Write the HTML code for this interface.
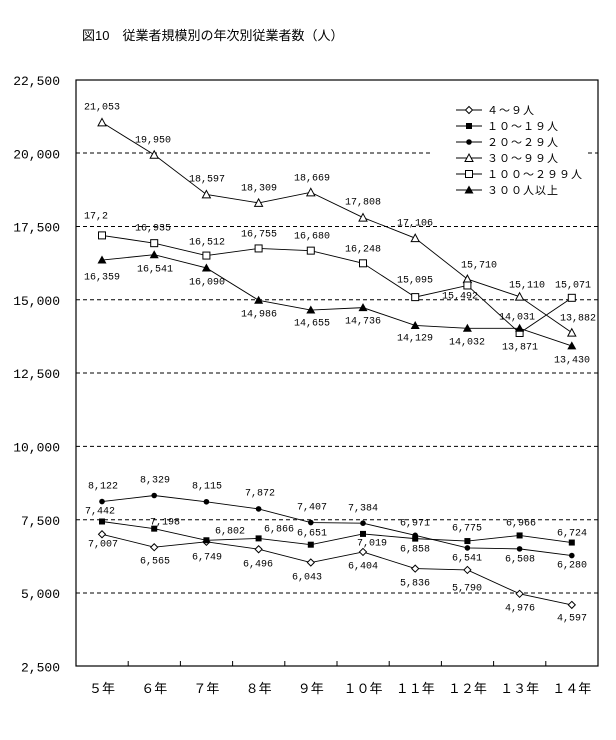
<!DOCTYPE html>
<html><head><meta charset="utf-8"><style>
body{margin:0;background:#fff;}
svg text{font-family:"Liberation Mono","Noto Sans CJK JP",monospace;}
</style></head><body>
<svg width="616" height="735" viewBox="0 0 616 735" xmlns="http://www.w3.org/2000/svg">
<text x="82" y="40" font-size="13" style="font-family:'Liberation Sans','Noto Sans CJK JP',sans-serif">図10　従業者規模別の年次別従業者数（人）</text>
<g stroke="#000" stroke-dasharray="4,3" stroke-width="1">
<line x1="76" x2="432" y1="153" y2="153"/><line x1="588" x2="598" y1="153" y2="153"/>
<line x1="76" x2="598" y1="226.5" y2="226.5"/>
<line x1="76" x2="598" y1="299.8" y2="299.8"/>
<line x1="76" x2="598" y1="373" y2="373"/>
<line x1="76" x2="598" y1="446.4" y2="446.4"/>
<line x1="76" x2="598" y1="519.7" y2="519.7"/>
<line x1="76" x2="598" y1="593" y2="593"/>
</g>
<rect x="76" y="80" width="522" height="586" fill="none" stroke="#000" stroke-width="1.2"/>
<g id="ticks" stroke="#000"></g>
<g id="ylab" font-size="13" text-anchor="end" style="font-family:'Liberation Sans',sans-serif"></g>
<g id="xlab" font-size="13" text-anchor="middle" style="font-family:'Liberation Sans','Noto Sans CJK JP',sans-serif"></g>
<g id="series"></g>
<g id="labels" font-size="10" text-anchor="middle" dominant-baseline="central"></g>
<g id="legend" font-size="11" style="font-family:'Liberation Sans','Noto Sans CJK JP',sans-serif"></g>
</svg>
<script>
var NS="http://www.w3.org/2000/svg";
function el(p,t,a,txt){var e=document.createElementNS(NS,t);for(var k in a)e.setAttribute(k,a[k]);if(txt!=null)e.textContent=txt;document.getElementById(p).appendChild(e);return e;}
function X(i){return 102+i*52.2;}
function Y(v){return 80+(22500-v)*0.02932;}
var yl=["22,500","20,000","17,500","15,000","12,500","10,000","7,500","5,000","2,500"];
for(var i=0;i<9;i++)el("ylab","text",{x:60,y:80+i*73.3+5},yl[i]);
var xl=["５年","６年","７年","８年","９年","１０年","１１年","１２年","１３年","１４年"];
for(var i=0;i<10;i++){el("xlab","text",{x:X(i),y:693},xl[i]);if(i>0)el("ticks","line",{x1:X(i)-26,x2:X(i)-26,y1:666,y2:661});}
var S=[
{m:"dia",d:[7007,6565,6749,6496,6043,6404,5836,5790,4976,4597],n:"4～9人"},
{m:"sq",d:[7442,7198,6802,6866,6651,7019,6858,6775,6966,6724],n:"10～19人"},
{m:"cir",d:[8122,8329,8115,7872,7407,7384,6971,6541,6508,6280],n:"20～29人"},
{m:"tri",d:[21053,19950,18597,18309,18669,17808,17106,15710,15110,13882],n:"30～99人"},
{m:"osq",d:[17200,16935,16512,16755,16680,16248,15095,15492,13871,15071],n:"100～299人"},
{m:"ftri",d:[16359,16541,16090,14986,14655,14736,14129,14032,14031,13430],n:"300人以上"}];
function mark(g,m,x,y){
 if(m=="dia")el(g,"polygon",{points:(x)+","+(y-3.5)+" "+(x+3.5)+","+y+" "+x+","+(y+3.5)+" "+(x-3.5)+","+y,fill:"#fff",stroke:"#000"});
 if(m=="sq")el(g,"rect",{x:x-3,y:y-3,width:6,height:6,fill:"#000"});
 if(m=="cir")el(g,"circle",{cx:x,cy:y,r:2.8,fill:"#000"});
 if(m=="tri")el(g,"polygon",{points:x+","+(y-4)+" "+(x+4)+","+(y+3.5)+" "+(x-4)+","+(y+3.5),fill:"#fff",stroke:"#000"});
 if(m=="osq")el(g,"rect",{x:x-3.5,y:y-3.5,width:7,height:7,fill:"#fff",stroke:"#000"});
 if(m=="ftri")el(g,"polygon",{points:x+","+(y-4.5)+" "+(x+4.5)+","+(y+3.5)+" "+(x-4.5)+","+(y+3.5),fill:"#000"});
}
S.forEach(function(s){var p=s.d.map(function(v,i){return X(i)+","+Y(v);}).join(" ");
 el("series","polyline",{points:p,fill:"none",stroke:"#000","stroke-width":0.9});});
S.forEach(function(s){s.d.forEach(function(v,i){mark("series",s.m,X(i),Y(v));});});
var L=[
["21,053",102,108],["19,950",153,141],["18,597",207,180],["18,309",259,189],["18,669",312,179],["17,808",363,203],["17,106",415,224],["15,710",479,266],["15,110",527,286],["13,882",578,319],
["17,2",96,217],["16,935",153,229],["16,512",207,243],["16,755",259,235],["16,680",312,237],["16,248",363,250],["15,095",415,281],["15,492",460,297],["13,871",520,348],["15,071",573,286],
["16,359",102,278],["16,541",155,270],["16,090",207,283],["14,986",259,315],["14,655",312,324],["14,736",363,322],["14,129",415,339],["14,032",467,343],["14,031",517,318],["13,430",572,361],
["8,122",103,487],["8,329",155,481],["8,115",207,487],["7,872",260,494],["7,407",312,508],["7,384",363,509],["6,971",415,524],["6,775",467,529],["6,966",521,524],["6,724",572,534],
["7,442",100,512],["7,198",165,523],["6,802",230,532],["6,866",279,530],["6,651",312,534],["7,019",372,544],["6,858",415,550],["6,541",467,559],["6,508",520,560],["6,280",572,566],
["7,007",103,545],["6,565",155,562],["6,749",207,558],["6,496",258,565],["6,043",307,578],["6,404",363,567],["5,836",415,584],["5,790",467,589],["4,976",520,609],["4,597",572,619]];
L.forEach(function(l){el("labels","text",{x:l[1],y:l[2]},l[0]);});
S.forEach(function(s,i){var y=110+i*16;el("legend","line",{x1:456,x2:482,y1:y,y2:y,stroke:"#000"});mark("legend",s.m,469,y);
 el("legend","text",{x:487,y:y+4,"letter-spacing":"1"},s.n.replace(/[0-9]/g,function(c){return String.fromCharCode(c.charCodeAt(0)+0xFEE0);}));});
</script>
</body></html>
